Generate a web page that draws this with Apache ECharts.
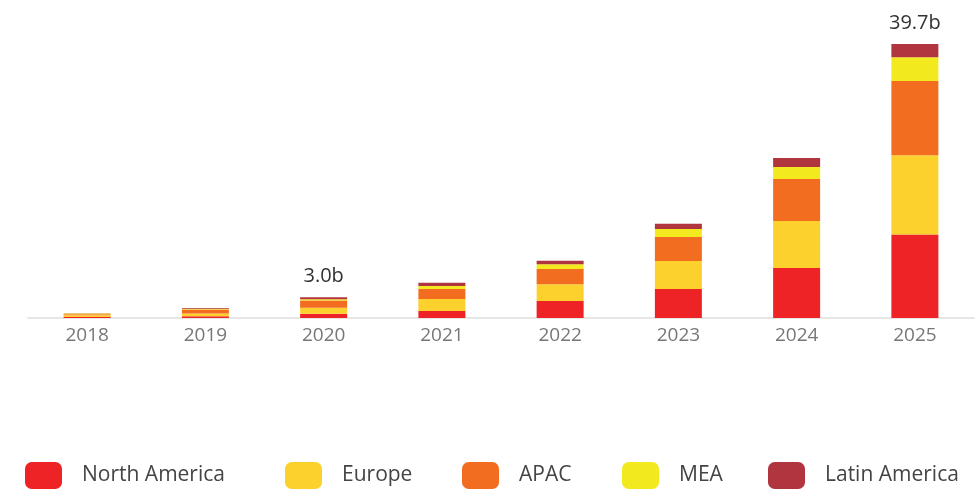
<!DOCTYPE html>
<html>
<head>
<meta charset="utf-8">
<script src="https://cdn.jsdelivr.net/npm/echarts@6/dist/echarts.min.js"></script>
<style>
  html, body { margin: 0; padding: 0; background: #fff; }
  #chart { width: 979px; height: 489px; }
</style>
</head>
<body>
<div id="chart"></div>
<script>
// years on the x axis
const years = ['2018', '2019', '2020', '2021', '2022', '2023', '2024', '2025'];

// values in billions
const northAmerica = [0.15, 0.25, 0.6, 1.0, 2.45, 4.2, 7.25, 12.1];
const europe       = [0.25, 0.4, 0.9, 1.75, 2.45, 4.05, 6.8, 11.5];
const apac         = [0.15, 0.6, 1.05, 1.45, 2.2, 3.5, 6.1, 10.75];
const mea          = [0.1, 0.1, 0.15, 0.45, 0.7, 1.15, 1.75, 3.45];
const latinAmerica = [0.05, 0.1, 0.3, 0.45, 0.5, 0.75, 1.3, 1.9];

// totals written above some of the bars
const totalLabels = ['', '', '3.0b', '', '', '', '', '39.7b'];

const regions = ['North America', 'Europe', 'APAC', 'MEA', 'Latin America'];
const colors = ['#EE2326', '#FCD12E', '#F36D21', '#F2EA1E', '#B0353E'];
// left edge of each legend swatch
const legendLeft = [25, 285, 462, 622, 768];
const font = 'Open Sans';

let chart = echarts.init(document.getElementById('chart'), null, {renderer: 'canvas'});

function barSeries(name, data, color) {
  return {
    name: name,
    type: 'bar',
    stack: 'total',
    barWidth: 47,
    data: data,
    itemStyle: {color: color},
    emphasis: {disabled: true}
  };
}

let series = [
  barSeries(regions[0], northAmerica, colors[0]),
  barSeries(regions[1], europe, colors[1]),
  barSeries(regions[2], apac, colors[2]),
  barSeries(regions[3], mea, colors[3]),
  barSeries(regions[4], latinAmerica, colors[4])
];

// total label sits on the top segment
series[4].label = {
  show: true,
  position: 'top',
  distance: 11,
  fontFamily: font,
  fontSize: 20,
  color: '#333',
  formatter: function (p) {
    return totalLabels[p.dataIndex];
  }
};

// one legend per item so the swatches land where the reference has them
let legends = regions.map(function (name, i) {
  return {
    top: 462,
    left: legendLeft[i],
    padding: 0,
    itemWidth: 37,
    itemHeight: 27,
    icon: 'roundRect',
    selectedMode: false,
    textStyle: {
      fontFamily: font,
      fontSize: 21,
      color: '#444',
      padding: [0, 0, 0, 15]
    },
    data: [name]
  };
});

let option = {
  animation: false,
  grid: {
    left: 28,
    right: 5,
    top: 42,
    bottom: 171,
    containLabel: false
  },
  legend: legends,
  xAxis: {
    type: 'category',
    data: years,
    axisLine: {lineStyle: {color: '#e6e6e6', width: 2}},
    axisTick: {show: false},
    axisLabel: {
      fontFamily: font,
      fontSize: 19,
      color: '#777',
      margin: 8
    }
  },
  yAxis: {
    type: 'value',
    min: 0,
    max: 40,
    show: false,
    splitLine: {show: false}
  },
  series: series
};

chart.setOption(option);
</script>
</body>
</html>
